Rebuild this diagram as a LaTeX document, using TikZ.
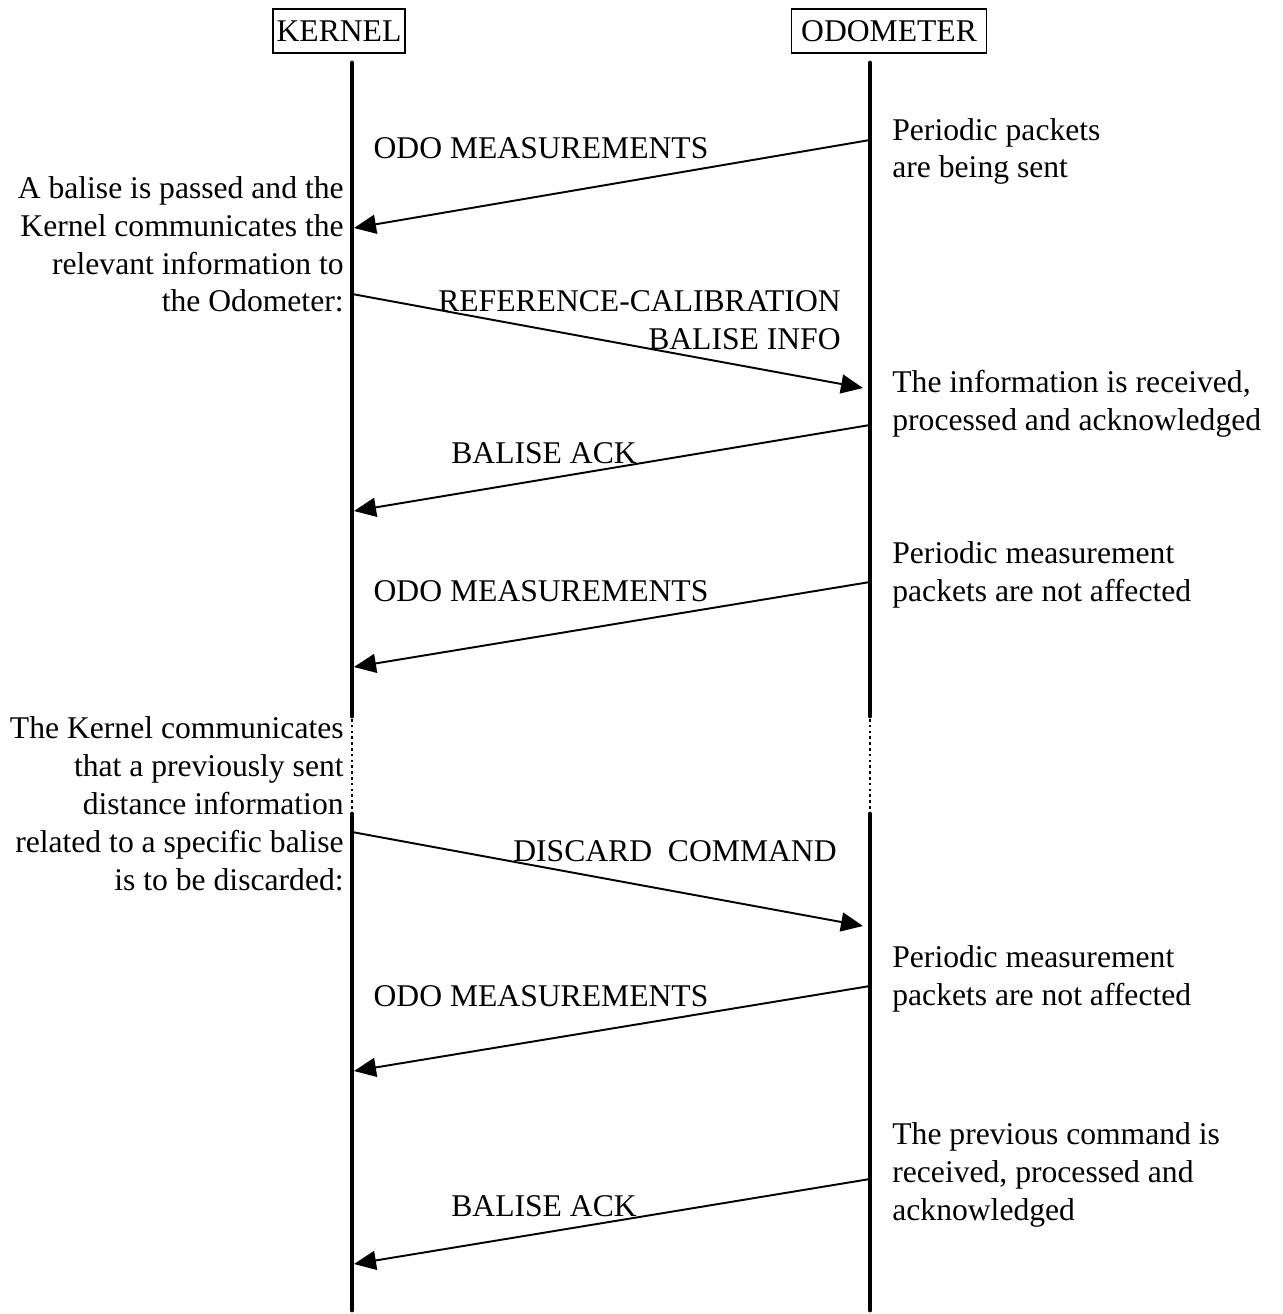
\documentclass[tikz,border=0pt]{standalone}
\usepackage{fontspec}
\setmainfont{Liberation Serif}
\usetikzlibrary{arrows.meta}

\begin{document}
\begin{tikzpicture}[x=0.02cm,y=-0.02cm,
	every node/.style={font=\fontsize{18}{21.6}\selectfont, inner sep=0pt},
	head/.style={draw, line width=0.8pt, inner xsep=2pt, inner ysep=0pt, minimum height=0.88cm},
	lifeline/.style={line width=2.8pt, line cap=round},
	gap/.style={line width=1.5pt, dash pattern=on 1.5pt off 1.8pt},
	msg/.style={line width=1.1pt, -{Triangle[length=0.44cm,width=0.38cm]}},
	noteL/.style={anchor=base east, align=right},
	noteR/.style={anchor=base west, align=left},
	label/.style={anchor=base}]
	% keep the page the size of the picture
	\useasboundingbox (0,0) rectangle (1282,1314);
	
	\def\kx{352}
	\def\ox{870}
	
	% the two heads
	\node[head] (kernel) at (339,31) {KERNEL};
	\node[head, minimum width=3.9cm] (odo) at (889,31) {ODOMETER};
	
	% life lines, broken by a dotted gap
	\foreach \x in {\kx,\ox}{%
		\draw[lifeline] (\x,63) -- (\x,716);
		\draw[gap] (\x,719) -- (\x,810);
		\draw[lifeline] (\x,814) -- (\x,1310);
	}
	
	% end points of the messages
	\coordinate (o1) at (\ox,140);  \coordinate (k1) at (\kx+2,228);
	\coordinate (k2) at (\kx,294);  \coordinate (o2) at (\ox-7,388);
	\coordinate (o3) at (\ox,425);  \coordinate (k3) at (\kx+2,511);
	\coordinate (o4) at (\ox,582);  \coordinate (k4) at (\kx+2,667);
	\coordinate (k5) at (\kx,832);  \coordinate (o5) at (\ox-7,926);
	\coordinate (o6) at (\ox,986);  \coordinate (k6) at (\kx+2,1071);
	\coordinate (o7) at (\ox,1179); \coordinate (k7) at (\kx+2,1264);
	
	\draw[msg] (o1) -- (k1);
	\draw[msg] (k2) -- (o2);
	\draw[msg] (o3) -- (k3);
	\draw[msg] (o4) -- (k4);
	\draw[msg] (k5) -- (o5);
	\draw[msg] (o6) -- (k6);
	\draw[msg] (o7) -- (k7);
	
	% message names (base of a block = base of its last line)
	\node[label] (m1) at (541,159) {ODO MEASUREMENTS};
	\node[anchor=base east, align=right] (m2) at (841,349) {REFERENCE-CALIBRATION\\BALISE INFO};
	\node[label] (m3) at (544,463) {BALISE ACK};
	\node[label] (m4) at (541,601) {ODO MEASUREMENTS};
	\node[label] (m5) at (675,861) {DISCARD\ \ COMMAND};
	\node[label] (m6) at (541,1006) {ODO MEASUREMENTS};
	\node[label] (m7) at (544,1216) {BALISE ACK};
	
	% comments on the kernel side
	\node[noteL] (n1) at (344,312) {A balise is passed and the\\Kernel communicates the\\relevant information to\\the Odometer:};
	\node[noteL] (n2) at (344,890) {The Kernel communicates\\that a previously sent\\distance information\\related to a specific balise\\is to be discarded:};
	
	% comments on the odometer side
	\node[noteR] (r1) at (892,178) {Periodic packets\\are being sent};
	\node[noteR] (r2) at (892,430) {The information is received,\\processed and acknowledged};
	\node[noteR] (r3) at (892,601) {Periodic measurement\\packets are not affected};
	\node[noteR] (r4) at (892,1005) {Periodic measurement\\packets are not affected};
	\node[noteR] (r5) at (892,1220) {The previous command is\\received, processed and\\acknowledged};
	
\end{tikzpicture}
\end{document}
